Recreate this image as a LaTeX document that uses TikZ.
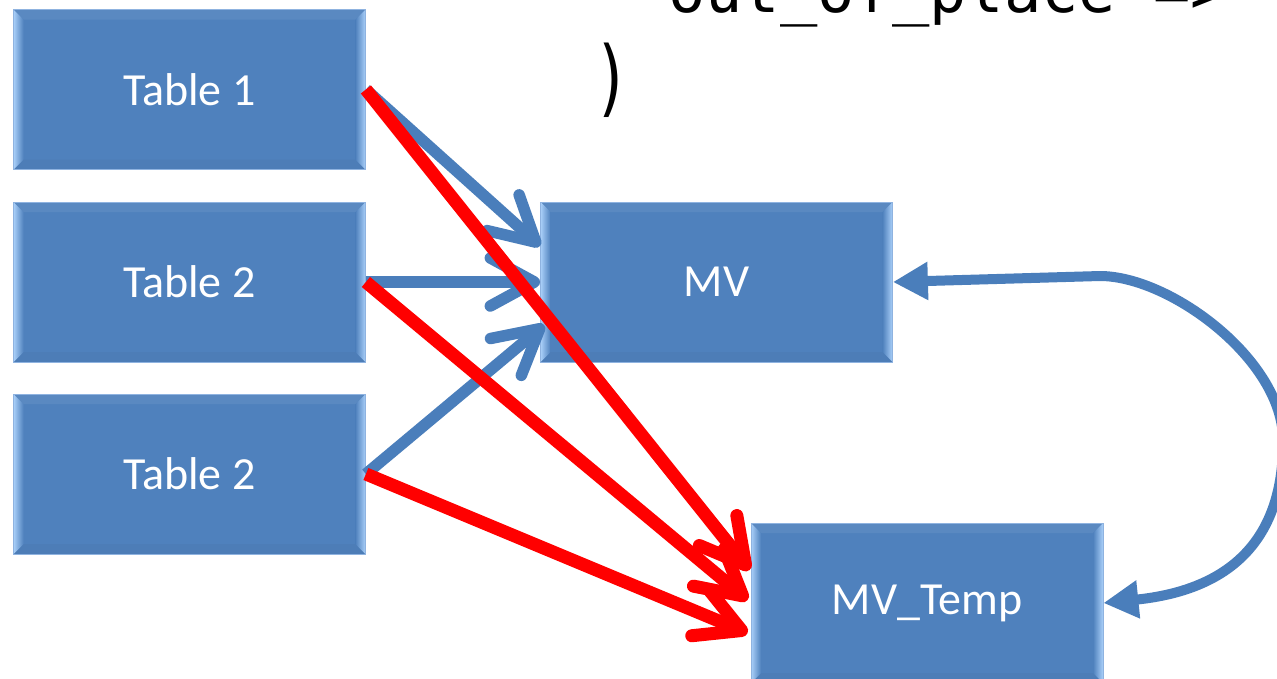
\documentclass[tikz,border=0pt]{standalone}
\usepackage{fontspec}
\usepackage{graphicx}
\setmainfont{Carlito}
\newfontfamily\codefont{DejaVu Sans Mono}
\usetikzlibrary{arrows.meta,calc}

\definecolor{boxblue}{HTML}{4F81BD}
\definecolor{bevellight}{HTML}{AAD0F9}
\definecolor{boxedge}{HTML}{8FB3E0}
\definecolor{linkblue}{HTML}{4A7EBB}
\definecolor{linkred}{HTML}{FF0000}

\tikzset{
  bevelbox/.style={rectangle, minimum width=352pt, minimum height=160pt,
    inner sep=0pt, fill=boxblue, draw=boxedge, line width=0.8pt,
    text=white, font=\fontsize{46}{50}\selectfont,
    path picture={
      \path (path picture bounding box.north west) coordinate (bnw)
            (path picture bounding box.south east) coordinate (bse);
      % top and bottom bevel faces
      \fill[boxblue!94!white]
        (bnw) -- (bse |- bnw) -- ($(bse |- bnw)+(-10pt,-10pt)$)
        -- ($(bnw)+(10pt,-10pt)$) -- cycle;
      \fill[boxblue!97!black]
        (bnw |- bse) -- (bse) -- ($(bse)+(-10pt,10pt)$)
        -- ($(bnw |- bse)+(10pt,10pt)$) -- cycle;
      % left and right bevel faces
      \shade[left color=bevellight, right color=boxblue]
        (bnw) -- ($(bnw)+(10pt,-10pt)$) -- ($(bnw |- bse)+(10pt,10pt)$)
        -- (bnw |- bse) -- cycle;
      \shade[left color=boxblue, right color=bevellight]
        (bse |- bnw) -- ($(bse |- bnw)+(-10pt,-10pt)$)
        -- ($(bse)+(-10pt,10pt)$) -- (bse) -- cycle;
    }},
  barbtip/.style={-{Straight Barb[length=44pt, width=48pt, round]}},
  bluelink/.style={draw=linkblue, line width=11.5pt, barbtip},
  redlink/.style={draw=linkred, line width=13pt, barbtip},
  loopback/.style={draw=linkblue, line width=10pt,
    {Triangle[length=35pt, width=36pt]}-{Triangle[length=35pt, width=36pt]}},
  codetext/.style={inner sep=0pt, text=black,
    font=\codefont\fontsize{62}{70}\selectfont}
}

\begin{document}
\begin{tikzpicture}[x=1pt, y=-1pt]
  \useasboundingbox (0,0) rectangle (1277,678);
  \clip (0,0) rectangle (1277,678);

  % code fragment, running past the top edge
  \node[codetext, anchor=base west] (code) at (668,12.7) {out\_of\_place =>};
  \node[codetext] (paren) at (612,80) {\scalebox{1}[1.35]{)}};

  % boxes
  \node[bevelbox] (t1) at (189.5,89.5) {Table 1};
  \node[bevelbox] (t2) at (189.5,282) {Table 2};
  \node[bevelbox] (t3) at (189.5,474) {Table 2};
  \node[bevelbox] (mv) at (716.5,282) {MV};
  \node[bevelbox] (mvt) at (927,603) {MV\_Temp};

  % tables feed the view
  \draw[bluelink] (t1.east) -- ($(mv.west)+(0,-36)$);
  \draw[bluelink] (t2.east) -- (mv.west);
  \draw[bluelink] (t3.east) -- ($(mv.west)+(4,43)$);

  % swap between the view and its temporary copy
  \draw[loopback] (mv.east) -- (1100,276)
    .. controls (1170,276) and (1283,360) .. (1283,440)
    .. controls (1284,540) and (1230,590) .. (mvt.east);

  % tables feed the temporary copy
  \draw[redlink] (t1.east) -- ($(mvt.west)+(-1,-33)$);
  \draw[redlink] (t2.east) -- ($(mvt.west)+(-3,-3)$);
  \draw[redlink] (t3.east) -- ($(mvt.west)+(-3,30)$);
\end{tikzpicture}
\end{document}
